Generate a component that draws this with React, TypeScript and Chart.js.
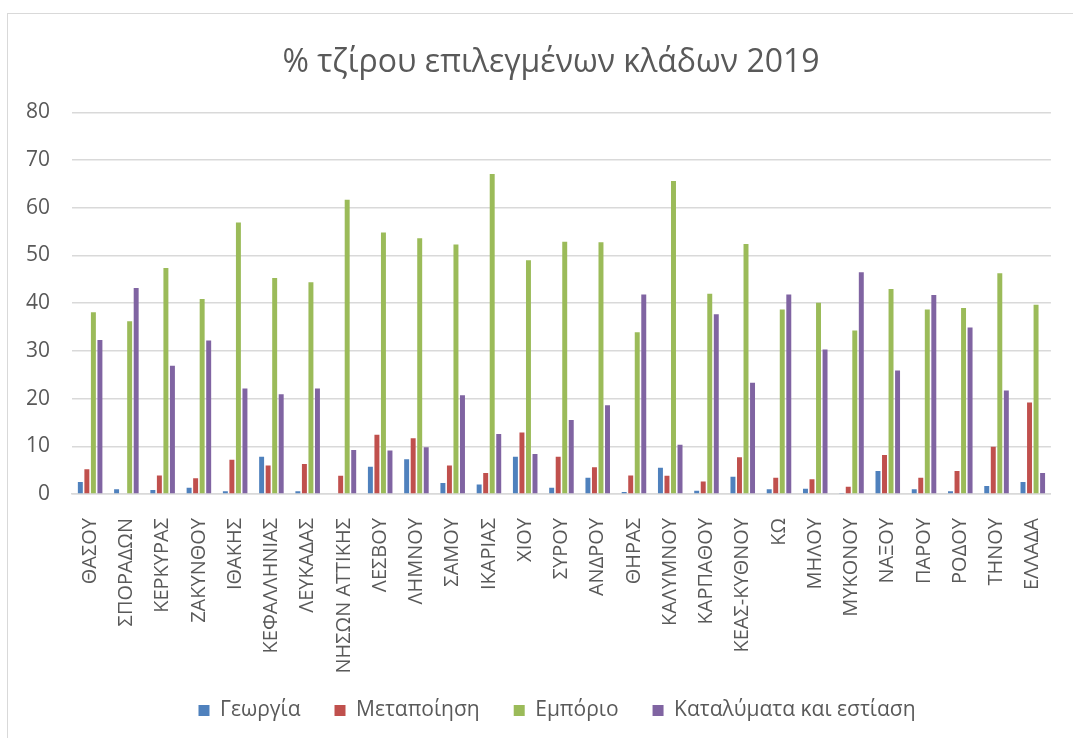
import React, { useEffect, useRef } from "react";
import { Chart, registerables } from "chart.js";

Chart.register(...registerables);

const categories = [
  "ΘΑΣΟΥ", "ΣΠΟΡΑΔΩΝ", "ΚΕΡΚΥΡΑΣ", "ΖΑΚΥΝΘΟΥ", "ΙΘΑΚΗΣ", "ΚΕΦΑΛΛΗΝΙΑΣ", "ΛΕΥΚΑΔΑΣ",
  "ΝΗΣΩΝ ΑΤΤΙΚΗΣ", "ΛΕΣΒΟΥ", "ΛΗΜΝΟΥ", "ΣΑΜΟΥ", "ΙΚΑΡΙΑΣ", "ΧΙΟΥ", "ΣΥΡΟΥ", "ΑΝΔΡΟΥ",
  "ΘΗΡΑΣ", "ΚΑΛΥΜΝΟΥ", "ΚΑΡΠΑΘΟΥ", "ΚΕΑΣ-ΚΥΘΝΟΥ", "ΚΩ", "ΜΗΛΟΥ", "ΜΥΚΟΝΟΥ", "ΝΑΞΟΥ",
  "ΠΑΡΟΥ", "ΡΟΔΟΥ", "ΤΗΝΟΥ", "ΕΛΛΑΔΑ",
];

const georgia = [2.5, 1.0, 0.85, 1.3, 0.6, 7.8, 0.6, 0, 5.7, 7.3, 2.3, 2.0, 7.8, 1.3, 3.4, 0.4, 5.5, 0.7, 3.6, 1.0, 1.1, 0.2, 4.8, 1.0, 0.6, 1.7, 2.5];
const metapoiisi = [5.2, 0, 3.9, 3.3, 7.2, 6.0, 6.3, 3.8, 12.4, 11.7, 6.0, 4.4, 12.9, 7.8, 5.6, 3.9, 3.8, 2.6, 7.7, 3.4, 3.1, 1.5, 8.2, 3.4, 4.8, 9.9, 19.2];
const emporio = [38.1, 36.2, 47.4, 40.9, 56.9, 45.3, 44.4, 61.7, 54.8, 53.6, 52.3, 67.1, 49.0, 52.9, 52.8, 33.9, 65.6, 42.0, 52.4, 38.7, 40.1, 34.3, 43.0, 38.7, 39.0, 46.3, 39.7];
const katalymata = [32.3, 43.2, 26.9, 32.2, 22.1, 20.9, 22.1, 9.2, 9.1, 9.8, 20.7, 12.6, 8.4, 15.5, 18.6, 41.8, 10.3, 37.7, 23.3, 41.8, 30.3, 46.5, 25.9, 41.7, 34.9, 21.7, 4.4];

const seriesNames = ["Γεωργία", "Μεταποίηση", "Εμπόριο", "Καταλύματα και εστίαση"];
const seriesColors = ["#4F81BD", "#C0504D", "#9BBB59", "#8064A2"];

const TEXT = "#595959";
const GRID = "#d9d9d9";
const FONT = "'Open Sans', 'Noto Sans', sans-serif";

// Adjusts the legend's reserved height and nudges title/legend horizontally
const layoutTweakPlugin = {
  id: "layoutTweak",
  beforeLayout(chart: any) {
    const lg = chart.legend;
    if (lg && !lg.__patched) {
      const f = lg.fit;
      lg.fit = function () {
        f.call(this);
        this.height = 63;
      };
      lg.__patched = true;
    }
  },
  afterLayout(chart: any) {
    const lg = chart.legend;
    if (lg) {
      lg.left += 52;
      lg.top = 666;
      lg.bottom = lg.top + lg.height;
    }
    const tb = chart.titleBlock;
    if (tb) {
      tb.left += 40;
    }
  },
};

export default function App() {
  const ref = useRef<HTMLCanvasElement | null>(null);

  useEffect(() => {
    document.body.style.margin = "0";
    const values = [georgia, metapoiisi, emporio, katalymata];
    const chart = new Chart(ref.current as HTMLCanvasElement, {
      type: "bar",
      data: {
        labels: categories,
        datasets: values.map((v, i) => ({
          label: seriesNames[i],
          data: v,
          backgroundColor: seriesColors[i],
          borderWidth: 0,
          categoryPercentage: 0.72,
          barPercentage: 0.76,
        })),
      },
      plugins: [layoutTweakPlugin],
      options: {
        animation: false,
        responsive: false,
        maintainAspectRatio: false,
        layout: { padding: { top: 13, left: 0, right: 11, bottom: 0 } },
        plugins: {
          title: {
            display: true,
            text: "% τζίρου επιλεγμένων κλάδων 2019",
            color: TEXT,
            font: { family: FONT, size: 32, weight: "normal" },
            padding: { top: 31, bottom: 30 },
          },
          legend: {
            display: true,
            position: "bottom",
            labels: {
              color: TEXT,
              font: { family: FONT, size: 21 },
              boxWidth: 11,
              boxHeight: 11,
              padding: 34,
            },
          },
          tooltip: { enabled: false },
        },
        scales: {
          x: {
            grid: { display: false },
            border: { color: GRID, width: 1.5 },
            ticks: {
              color: TEXT,
              font: { family: FONT, size: 20 },
              maxRotation: 90,
              minRotation: 90,
              autoSkip: false,
              padding: 16,
            },
            afterFit: (scale: any) => {
              scale.height = 181;
            },
          },
          y: {
            min: 0,
            max: 80,
            ticks: {
              stepSize: 10,
              color: TEXT,
              font: { family: FONT, size: 21 },
              padding: 22,
            },
            grid: { color: GRID, lineWidth: 1.5, drawTicks: false },
            border: { display: false },
            afterFit: (scale: any) => {
              scale.width = 72;
            },
          },
        },
      },
    });
    return () => chart.destroy();
  }, []);

  return (
    <div style={{ position: "relative", width: 1073, height: 738, background: "#fff", overflow: "hidden" }}>
      <div
        style={{
          position: "absolute",
          left: 7,
          top: 13,
          width: 1100,
          height: 800,
          border: "1.5px solid #d9d9d9",
          boxSizing: "border-box",
        }}
      />
      <canvas ref={ref} width={1073} height={738} style={{ position: "absolute", left: 0, top: 0 }} />
    </div>
  );
}
